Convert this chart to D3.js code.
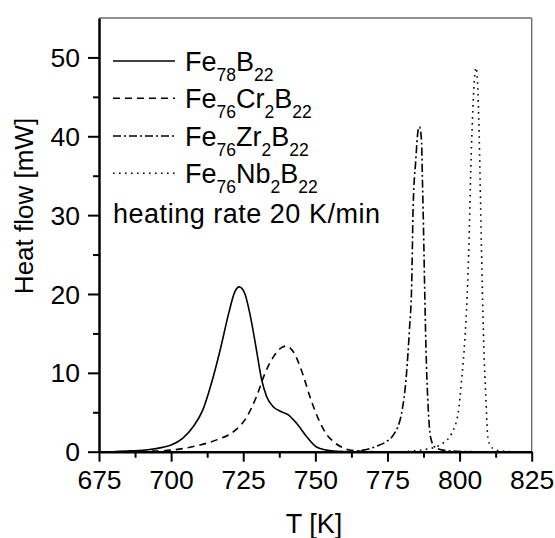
<!DOCTYPE html>
<html>
<head>
<meta charset="utf-8">
<script src="https://cdn.jsdelivr.net/npm/d3@7"></script>
<style>
  html, body { margin: 0; padding: 0; background: #fff; }
  svg { display: block; font-family: "Liberation Sans", Arial, sans-serif; }
</style>
</head>
<body>
<svg id="chart" width="555" height="538"></svg>
<script>
// ---------------- data ----------------
const xMajorTicks = [675, 700, 725, 750, 775, 800, 825];
const xMinorTicks = [687.5, 712.5, 737.5, 762.5, 787.5, 812.5];
const yMajorTicks = [0, 10, 20, 30, 40, 50];
const yMinorTicks = [5, 15, 25, 35, 45];

const feB_T = [680, 686, 692, 697, 700, 704, 707.7, 711, 714, 717, 720, 722, 723.6, 725.5, 727.3, 729.4, 731.4, 733.1, 735.4, 738, 740.5, 743.5, 747, 750.4, 753.9, 757, 762];
const feB_Q = [0, 0.1, 0.25, 0.55, 0.85, 1.7, 3.2, 5.3, 8.7, 12.9, 17.6, 20.2, 20.9, 20.1, 17.5, 13.3, 9.1, 7.0, 5.7, 5.1, 4.7, 3.6, 1.9, 0.6, 0.2, 0.05, 0];

const feCr_T = [685, 692, 700, 705, 710, 715.8, 721.5, 726.2, 729.6, 732.5, 735.4, 738.3, 740, 742.3, 745.2, 748.1, 751, 753.9, 756.2, 760.2, 764.3, 770];
const feCr_Q = [0, 0.05, 0.2, 0.45, 0.85, 1.5, 2.5, 4.4, 7.0, 9.9, 12.0, 13.2, 13.4, 12.7, 10.3, 7.0, 4.2, 2.2, 1.3, 0.4, 0.1, 0];

const feZr_T = [755, 763, 768.9, 772.3, 774.7, 777, 779.9, 781.6, 782.6, 783.4, 783.9, 784.8, 785.6, 786.1, 786.8, 787.1, 787.6, 787.9, 788.5, 789.1, 789.9, 791.4, 794.3, 799, 805];
const feZr_Q = [0, 0.05, 0.4, 0.85, 1.3, 2.1, 4.9, 9.9, 15.4, 21.3, 31.0, 36.9, 40.7, 41.2, 39.5, 34.8, 26.4, 20.5, 11.2, 5.7, 1.9, 0.6, 0.2, 0.05, 0];

const feNb_T = [780, 789.7, 794.3, 797.2, 799.5, 800.7, 801.8, 802.6, 803.3, 803.9, 804.5, 805.1, 805.7, 806.2, 806.8, 807.3, 807.9, 808.4, 809.1, 809.9, 811.6, 815, 820];
const feNb_Q = [0, 0.4, 1.1, 2.3, 4.9, 9.1, 14.1, 19.6, 27, 36, 42.5, 47, 48.7, 47, 40, 31, 20.5, 13.3, 7.0, 1.5, 0.4, 0.05, 0];

// legend labels: [text, isSubscript]
const legendLabels = [
  [["Fe", false], ["78", true], ["B", false], ["22", true]],
  [["Fe", false], ["76", true], ["Cr", false], ["2", true], ["B", false], ["22", true]],
  [["Fe", false], ["76", true], ["Zr", false], ["2", true], ["B", false], ["22", true]],
  [["Fe", false], ["76", true], ["Nb", false], ["2", true], ["B", false], ["22", true]]
];
const noteText = "heating rate 20 K/min";
const xTitle = "T [K]";
const yTitle = "Heat flow [mW]";

// ---------------- styles ----------------
const dashes = [null, "7,5", "8,3,2,3", "1.6,4.4"];
const seriesT = [feB_T, feCr_T, feZr_T, feNb_T];
const seriesQ = [feB_Q, feCr_Q, feZr_Q, feNb_Q];

// ---------------- layout ----------------
const svg = d3.select("#chart");
const L = 99, R = 531.7, T = 18, B = 451.7;

const x = d3.scaleLinear().domain([675, 825]).range([L, R]);
const y = d3.scaleLinear().domain([0, 55]).range([B, T]);

// frame top/right
svg.append("line").attr("x1", L).attr("x2", R).attr("y1", T).attr("y2", T)
  .attr("stroke", "#222").attr("stroke-width", 1);
svg.append("line").attr("x1", R).attr("x2", R).attr("y1", T).attr("y2", B)
  .attr("stroke", "#666").attr("stroke-width", 1.3);

// curves
const line = d3.line().x(d => x(d[0])).y(d => y(d[1])).curve(d3.curveMonotoneX);
seriesT.forEach((ts, i) => {
  const pts = ts.map((t, j) => [t, seriesQ[i][j]]);
  svg.append("path").datum(pts)
    .attr("d", line)
    .attr("fill", "none")
    .attr("stroke", "#000")
    .attr("stroke-width", 1.6)
    .attr("stroke-dasharray", dashes[i]);
});

// axes
function styleAxis(g) {
  g.select(".domain").attr("stroke", "#000").attr("stroke-width", 2.5);
  g.selectAll(".tick line").attr("stroke", "#000").attr("stroke-width", 2);
}
const gx = svg.append("g").attr("transform", `translate(0,${B})`)
  .call(d3.axisBottom(x).tickValues(xMajorTicks).tickSize(10).tickSizeOuter(0).tickFormat(d3.format("d")));
svg.append("g").attr("transform", `translate(0,${B})`)
  .call(d3.axisBottom(x).tickValues(xMinorTicks).tickSize(6).tickSizeOuter(0).tickFormat(""))
  .call(g => g.select(".domain").remove())
  .call(g => g.selectAll(".tick line").attr("stroke", "#000").attr("stroke-width", 2));
gx.call(styleAxis);
gx.selectAll(".tick text").attr("y", 37).attr("dy", 0)
  .attr("font-size", 26.5).attr("fill", "#000").attr("font-family", "Liberation Sans, Arial, sans-serif");

const gy = svg.append("g").attr("transform", `translate(${L},0)`)
  .call(d3.axisLeft(y).tickValues(yMajorTicks).tickSize(11).tickSizeOuter(0).tickFormat(d3.format("d")));
svg.append("g").attr("transform", `translate(${L},0)`)
  .call(d3.axisLeft(y).tickValues(yMinorTicks).tickSize(6).tickSizeOuter(0).tickFormat(""))
  .call(g => g.select(".domain").remove())
  .call(g => g.selectAll(".tick line").attr("stroke", "#000").attr("stroke-width", 2));
gy.call(styleAxis);
gy.selectAll(".tick text").attr("x", -19).attr("dy", "0.34em")
  .attr("font-size", 26.5).attr("fill", "#000").attr("font-family", "Liberation Sans, Arial, sans-serif");

// axis titles
svg.append("text").attr("x", 314).attr("y", 533).attr("text-anchor", "middle")
  .attr("font-size", 27).text(xTitle);
svg.append("text").attr("transform", "translate(33,206) rotate(-90)")
  .attr("text-anchor", "middle").attr("font-size", 26).text(yTitle);

// legend
const rowBase = [71, 108.3, 146, 183.3];
legendLabels.forEach((parts, i) => {
  svg.append("line").attr("x1", 113).attr("x2", 175)
    .attr("y1", rowBase[i] - 10).attr("y2", rowBase[i] - 10)
    .attr("stroke", "#000").attr("stroke-width", 1.5)
    .attr("stroke-dasharray", dashes[i]);
  const t = svg.append("text").attr("x", 185).attr("y", rowBase[i]).attr("font-size", 27);
  parts.forEach(([s, sub], j) => {
    const prevSub = j > 0 ? parts[j - 1][1] : false;
    const ts = t.append("tspan").text(s)
      .attr("dy", sub && !prevSub ? 10 : (!sub && prevSub ? -10 : 0));
    if (sub) ts.attr("font-size", 17.5);
  });
});
svg.append("text").attr("x", 113).attr("y", 222.7).attr("font-size", 27)
  .attr("textLength", 267).attr("lengthAdjust", "spacing").text(noteText);
</script>
</body>
</html>
